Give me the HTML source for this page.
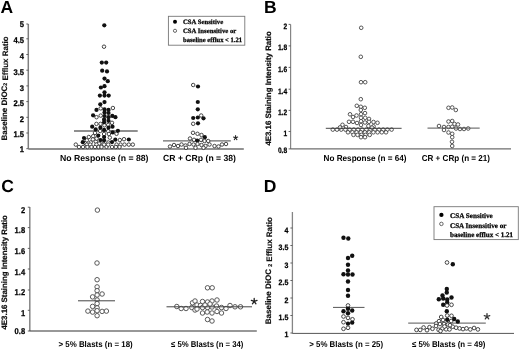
<!DOCTYPE html>
<html><head><meta charset="utf-8"><style>
html,body{margin:0;padding:0;background:#fff;}
svg{display:block;}
text{-webkit-font-smoothing:antialiased;text-rendering:geometricPrecision;}
</style></head><body>
<svg width="520" height="350" viewBox="0 0 520 350" style="will-change:transform;filter:blur(0.3px)">
<rect width="520" height="350" fill="#fff"/>
<text x="0.6" y="13.4" font-family='"Liberation Sans", sans-serif' font-size="17.5" font-weight="bold" text-anchor="start" fill="#000" >A</text>
<line x1="28.3" y1="24" x2="28.3" y2="148.9" stroke="#7e7e7e" stroke-width="1.5"/>
<line x1="26.3" y1="24" x2="28.3" y2="24" stroke="#555" stroke-width="0.9"/>
<text x="24.0" y="26.851999999999997" font-family='"Liberation Sans", sans-serif' font-size="8.2" font-weight="bold" text-anchor="end" fill="#000" textLength="4.24" lengthAdjust="spacingAndGlyphs" stroke="#000" stroke-width="0.25">5</text>
<line x1="26.3" y1="38.8" x2="28.3" y2="38.8" stroke="#555" stroke-width="0.9"/>
<text x="24.0" y="43.352" font-family='"Liberation Sans", sans-serif' font-size="8.2" font-weight="bold" text-anchor="end" fill="#000" textLength="10.60" lengthAdjust="spacingAndGlyphs" stroke="#000" stroke-width="0.25">4.5</text>
<line x1="26.3" y1="54.5" x2="28.3" y2="54.5" stroke="#555" stroke-width="0.9"/>
<text x="24.0" y="59.352" font-family='"Liberation Sans", sans-serif' font-size="8.2" font-weight="bold" text-anchor="end" fill="#000" textLength="4.24" lengthAdjust="spacingAndGlyphs" stroke="#000" stroke-width="0.25">4</text>
<line x1="26.3" y1="70.19999999999999" x2="28.3" y2="70.19999999999999" stroke="#555" stroke-width="0.9"/>
<text x="24.0" y="75.05199999999999" font-family='"Liberation Sans", sans-serif' font-size="8.2" font-weight="bold" text-anchor="end" fill="#000" textLength="10.60" lengthAdjust="spacingAndGlyphs" stroke="#000" stroke-width="0.25">3.5</text>
<line x1="26.3" y1="85.89999999999999" x2="28.3" y2="85.89999999999999" stroke="#555" stroke-width="0.9"/>
<text x="24.0" y="90.652" font-family='"Liberation Sans", sans-serif' font-size="8.2" font-weight="bold" text-anchor="end" fill="#000" textLength="4.24" lengthAdjust="spacingAndGlyphs" stroke="#000" stroke-width="0.25">3</text>
<line x1="26.3" y1="101.6" x2="28.3" y2="101.6" stroke="#555" stroke-width="0.9"/>
<text x="24.0" y="106.352" font-family='"Liberation Sans", sans-serif' font-size="8.2" font-weight="bold" text-anchor="end" fill="#000" textLength="10.60" lengthAdjust="spacingAndGlyphs" stroke="#000" stroke-width="0.25">2.5</text>
<line x1="26.3" y1="117.29999999999998" x2="28.3" y2="117.29999999999998" stroke="#555" stroke-width="0.9"/>
<text x="24.0" y="122.352" font-family='"Liberation Sans", sans-serif' font-size="8.2" font-weight="bold" text-anchor="end" fill="#000" textLength="4.24" lengthAdjust="spacingAndGlyphs" stroke="#000" stroke-width="0.25">2</text>
<line x1="26.3" y1="133.0" x2="28.3" y2="133.0" stroke="#555" stroke-width="0.9"/>
<text x="24.0" y="136.852" font-family='"Liberation Sans", sans-serif' font-size="8.2" font-weight="bold" text-anchor="end" fill="#000" textLength="10.60" lengthAdjust="spacingAndGlyphs" stroke="#000" stroke-width="0.25">1.5</text>
<line x1="26.3" y1="148.7" x2="28.3" y2="148.7" stroke="#555" stroke-width="0.9"/>
<text x="24.0" y="152.252" font-family='"Liberation Sans", sans-serif' font-size="8.2" font-weight="bold" text-anchor="end" fill="#000" textLength="4.24" lengthAdjust="spacingAndGlyphs" stroke="#000" stroke-width="0.25">1</text>
<text x="0" y="0" transform="translate(4.6,88.4) rotate(-90)" font-family='"Liberation Sans", sans-serif' font-size="7.95" font-weight="bold" text-anchor="middle" fill="#111" dominant-baseline="central" stroke="#000" stroke-width="0.15">Baseline DiOC<tspan font-size="5.3" dy="1.4">2</tspan><tspan dy="-1.4"> Efflux Ratio</tspan></text>
<line x1="28.3" y1="148.9" x2="243.8" y2="148.9" stroke="#6e6e6e" stroke-width="1.5"/>
<line x1="74" y1="131.0" x2="137.7" y2="131.0" stroke="#6a6a6a" stroke-width="1.4"/>
<line x1="163" y1="140.9" x2="230.8" y2="140.9" stroke="#6a6a6a" stroke-width="1.4"/>
<circle cx="90.8" cy="142.4" r="1.75" fill="#fff" stroke="#333" stroke-width="0.9"/>
<circle cx="95.8" cy="141.6" r="1.75" fill="#fff" stroke="#333" stroke-width="0.9"/>
<circle cx="85.1" cy="143" r="1.75" fill="#fff" stroke="#333" stroke-width="0.9"/>
<circle cx="99" cy="143.6" r="1.75" fill="#fff" stroke="#333" stroke-width="0.9"/>
<circle cx="93.2" cy="136.2" r="1.75" fill="#fff" stroke="#333" stroke-width="0.9"/>
<circle cx="96.6" cy="138.6" r="1.75" fill="#fff" stroke="#333" stroke-width="0.9"/>
<circle cx="103.3" cy="143.6" r="1.75" fill="#fff" stroke="#333" stroke-width="0.9"/>
<circle cx="108.3" cy="142.5" r="1.75" fill="#fff" stroke="#333" stroke-width="0.9"/>
<circle cx="106.5" cy="146.8" r="1.75" fill="#fff" stroke="#333" stroke-width="0.9"/>
<circle cx="104" cy="46.7" r="1.75" fill="#fff" stroke="#333" stroke-width="0.9"/>
<circle cx="100.7" cy="108.4" r="1.75" fill="#fff" stroke="#333" stroke-width="0.9"/>
<circle cx="112.9" cy="108" r="1.75" fill="#fff" stroke="#333" stroke-width="0.9"/>
<circle cx="96.5" cy="117.2" r="1.75" fill="#fff" stroke="#333" stroke-width="0.9"/>
<circle cx="100.7" cy="115.6" r="1.75" fill="#fff" stroke="#333" stroke-width="0.9"/>
<circle cx="96.4" cy="123.9" r="1.75" fill="#fff" stroke="#333" stroke-width="0.9"/>
<circle cx="100.5" cy="123.9" r="1.75" fill="#fff" stroke="#333" stroke-width="0.9"/>
<circle cx="104.4" cy="125.3" r="1.75" fill="#fff" stroke="#333" stroke-width="0.9"/>
<circle cx="108.2" cy="124.9" r="1.75" fill="#fff" stroke="#333" stroke-width="0.9"/>
<circle cx="112" cy="122.8" r="1.75" fill="#fff" stroke="#333" stroke-width="0.9"/>
<circle cx="100.2" cy="131" r="1.75" fill="#fff" stroke="#333" stroke-width="0.9"/>
<circle cx="108.2" cy="131.2" r="1.75" fill="#fff" stroke="#333" stroke-width="0.9"/>
<circle cx="95" cy="132.9" r="1.75" fill="#fff" stroke="#333" stroke-width="0.9"/>
<circle cx="116.5" cy="133.8" r="1.75" fill="#fff" stroke="#333" stroke-width="0.9"/>
<circle cx="104.1" cy="134" r="1.75" fill="#fff" stroke="#333" stroke-width="0.9"/>
<circle cx="108.9" cy="134" r="1.75" fill="#fff" stroke="#333" stroke-width="0.9"/>
<circle cx="88.8" cy="137" r="1.75" fill="#fff" stroke="#333" stroke-width="0.9"/>
<circle cx="86.8" cy="140.3" r="1.75" fill="#fff" stroke="#333" stroke-width="0.9"/>
<circle cx="92.9" cy="139.4" r="1.75" fill="#fff" stroke="#333" stroke-width="0.9"/>
<circle cx="109.8" cy="137.6" r="1.75" fill="#fff" stroke="#333" stroke-width="0.9"/>
<circle cx="119.8" cy="140" r="1.75" fill="#fff" stroke="#333" stroke-width="0.9"/>
<circle cx="124" cy="139.2" r="1.75" fill="#fff" stroke="#333" stroke-width="0.9"/>
<circle cx="75.8" cy="144.6" r="1.75" fill="#fff" stroke="#333" stroke-width="0.9"/>
<circle cx="86.8" cy="144.6" r="1.75" fill="#fff" stroke="#333" stroke-width="0.9"/>
<circle cx="90.2" cy="144.6" r="1.75" fill="#fff" stroke="#333" stroke-width="0.9"/>
<circle cx="96.4" cy="144.6" r="1.75" fill="#fff" stroke="#333" stroke-width="0.9"/>
<circle cx="104.1" cy="144.6" r="1.75" fill="#fff" stroke="#333" stroke-width="0.9"/>
<circle cx="108.2" cy="144.6" r="1.75" fill="#fff" stroke="#333" stroke-width="0.9"/>
<circle cx="116.5" cy="144.6" r="1.75" fill="#fff" stroke="#333" stroke-width="0.9"/>
<circle cx="120.5" cy="144.6" r="1.75" fill="#fff" stroke="#333" stroke-width="0.9"/>
<circle cx="124.5" cy="144.6" r="1.75" fill="#fff" stroke="#333" stroke-width="0.9"/>
<circle cx="128.8" cy="144.6" r="1.75" fill="#fff" stroke="#333" stroke-width="0.9"/>
<circle cx="132.8" cy="144.6" r="1.75" fill="#fff" stroke="#333" stroke-width="0.9"/>
<circle cx="79" cy="147" r="1.75" fill="#fff" stroke="#333" stroke-width="0.9"/>
<circle cx="83" cy="147" r="1.75" fill="#fff" stroke="#333" stroke-width="0.9"/>
<circle cx="87.4" cy="147" r="1.75" fill="#fff" stroke="#333" stroke-width="0.9"/>
<circle cx="91.5" cy="147" r="1.75" fill="#fff" stroke="#333" stroke-width="0.9"/>
<circle cx="95" cy="147" r="1.75" fill="#fff" stroke="#333" stroke-width="0.9"/>
<circle cx="98.5" cy="147" r="1.75" fill="#fff" stroke="#333" stroke-width="0.9"/>
<circle cx="101.5" cy="147" r="1.75" fill="#fff" stroke="#333" stroke-width="0.9"/>
<circle cx="112" cy="147" r="1.75" fill="#fff" stroke="#333" stroke-width="0.9"/>
<circle cx="115.8" cy="147" r="1.75" fill="#fff" stroke="#333" stroke-width="0.9"/>
<circle cx="119.5" cy="147" r="1.75" fill="#fff" stroke="#333" stroke-width="0.9"/>
<circle cx="104.3" cy="25.3" r="2.1" fill="#111"/>
<circle cx="101.8" cy="62.6" r="2.1" fill="#111"/>
<circle cx="106.2" cy="62.6" r="2.1" fill="#111"/>
<circle cx="102.2" cy="70.7" r="2.1" fill="#111"/>
<circle cx="107" cy="71.4" r="2.1" fill="#111"/>
<circle cx="104.5" cy="78.6" r="2.1" fill="#111"/>
<circle cx="107.8" cy="81.2" r="2.1" fill="#111"/>
<circle cx="100.9" cy="87.5" r="2.1" fill="#111"/>
<circle cx="104.5" cy="86.2" r="2.1" fill="#111"/>
<circle cx="104.5" cy="92.3" r="2.1" fill="#111"/>
<circle cx="99.9" cy="95.6" r="2.1" fill="#111"/>
<circle cx="104.5" cy="95.6" r="2.1" fill="#111"/>
<circle cx="108.7" cy="95.6" r="2.1" fill="#111"/>
<circle cx="104.5" cy="102.1" r="2.1" fill="#111"/>
<circle cx="100.3" cy="104.3" r="2.1" fill="#111"/>
<circle cx="96.5" cy="109.9" r="2.1" fill="#111"/>
<circle cx="104.5" cy="109.4" r="2.1" fill="#111"/>
<circle cx="108.5" cy="109.9" r="2.1" fill="#111"/>
<circle cx="104.5" cy="112.6" r="2.1" fill="#111"/>
<circle cx="108.5" cy="113" r="2.1" fill="#111"/>
<circle cx="93.1" cy="115.3" r="2.1" fill="#111"/>
<circle cx="104.5" cy="116" r="2.1" fill="#111"/>
<circle cx="108.5" cy="117.2" r="2.1" fill="#111"/>
<circle cx="112.3" cy="115.9" r="2.1" fill="#111"/>
<circle cx="115.4" cy="117.2" r="2.1" fill="#111"/>
<circle cx="104.1" cy="119.4" r="2.1" fill="#111"/>
<circle cx="108.5" cy="120.8" r="2.1" fill="#111"/>
<circle cx="104.1" cy="122.2" r="2.1" fill="#111"/>
<circle cx="92.2" cy="126.7" r="2.1" fill="#111"/>
<circle cx="100.4" cy="127.7" r="2.1" fill="#111"/>
<circle cx="108.5" cy="127.7" r="2.1" fill="#111"/>
<circle cx="112.5" cy="126.7" r="2.1" fill="#111"/>
<circle cx="95.7" cy="129.4" r="2.1" fill="#111"/>
<circle cx="104.1" cy="129.9" r="2.1" fill="#111"/>
<circle cx="117.9" cy="130.8" r="2.1" fill="#111"/>
<circle cx="112.7" cy="132.4" r="2.1" fill="#111"/>
<circle cx="84" cy="138" r="2.1" fill="#111"/>
<circle cx="82.8" cy="142.2" r="2.1" fill="#111"/>
<circle cx="98.3" cy="135.6" r="2.1" fill="#111"/>
<circle cx="100.5" cy="140.1" r="2.1" fill="#111"/>
<circle cx="104.1" cy="137" r="2.1" fill="#111"/>
<circle cx="104.1" cy="140.3" r="2.1" fill="#111"/>
<circle cx="112" cy="142.1" r="2.1" fill="#111"/>
<circle cx="115.3" cy="139.7" r="2.1" fill="#111"/>
<circle cx="128.8" cy="139.5" r="2.1" fill="#111"/>
<circle cx="193.2" cy="85" r="1.75" fill="#fff" stroke="#333" stroke-width="0.9"/>
<circle cx="198" cy="86.5" r="2.1" fill="#111"/>
<circle cx="197.8" cy="102" r="2.1" fill="#111"/>
<circle cx="197.8" cy="109.3" r="2.1" fill="#111"/>
<circle cx="201.2" cy="115.5" r="1.75" fill="#fff" stroke="#333" stroke-width="0.9"/>
<circle cx="193.2" cy="118" r="2.1" fill="#111"/>
<circle cx="197.8" cy="117.5" r="2.1" fill="#111"/>
<circle cx="203.5" cy="118.3" r="2.1" fill="#111"/>
<circle cx="193.2" cy="123.8" r="1.75" fill="#fff" stroke="#333" stroke-width="0.9"/>
<circle cx="198" cy="123.3" r="2.1" fill="#111"/>
<circle cx="193" cy="132.8" r="1.75" fill="#fff" stroke="#333" stroke-width="0.9"/>
<circle cx="197.5" cy="133.8" r="1.75" fill="#fff" stroke="#333" stroke-width="0.9"/>
<circle cx="201.5" cy="135" r="1.75" fill="#fff" stroke="#333" stroke-width="0.9"/>
<circle cx="204.8" cy="137.2" r="2.1" fill="#111"/>
<circle cx="190" cy="138.5" r="1.75" fill="#fff" stroke="#333" stroke-width="0.9"/>
<circle cx="194" cy="139.8" r="1.75" fill="#fff" stroke="#333" stroke-width="0.9"/>
<circle cx="197.2" cy="140.5" r="2.1" fill="#111"/>
<circle cx="201" cy="139.8" r="1.75" fill="#fff" stroke="#333" stroke-width="0.9"/>
<circle cx="204.5" cy="141" r="1.75" fill="#fff" stroke="#333" stroke-width="0.9"/>
<circle cx="208.2" cy="141" r="1.75" fill="#fff" stroke="#333" stroke-width="0.9"/>
<circle cx="170" cy="146.5" r="1.75" fill="#fff" stroke="#333" stroke-width="0.9"/>
<circle cx="174" cy="145" r="1.75" fill="#fff" stroke="#333" stroke-width="0.9"/>
<circle cx="178" cy="146" r="1.75" fill="#fff" stroke="#333" stroke-width="0.9"/>
<circle cx="181.5" cy="144.5" r="1.75" fill="#fff" stroke="#333" stroke-width="0.9"/>
<circle cx="185.5" cy="145.5" r="1.75" fill="#fff" stroke="#333" stroke-width="0.9"/>
<circle cx="189.5" cy="144" r="1.75" fill="#fff" stroke="#333" stroke-width="0.9"/>
<circle cx="193.5" cy="144.5" r="1.75" fill="#fff" stroke="#333" stroke-width="0.9"/>
<circle cx="197.5" cy="144" r="1.75" fill="#fff" stroke="#333" stroke-width="0.9"/>
<circle cx="201.5" cy="145" r="1.75" fill="#fff" stroke="#333" stroke-width="0.9"/>
<circle cx="205.5" cy="146" r="1.75" fill="#fff" stroke="#333" stroke-width="0.9"/>
<circle cx="209.5" cy="144.5" r="1.75" fill="#fff" stroke="#333" stroke-width="0.9"/>
<circle cx="214.5" cy="146" r="1.75" fill="#fff" stroke="#333" stroke-width="0.9"/>
<circle cx="218.5" cy="146.5" r="1.75" fill="#fff" stroke="#333" stroke-width="0.9"/>
<circle cx="222" cy="144.5" r="1.75" fill="#fff" stroke="#333" stroke-width="0.9"/>
<circle cx="226" cy="144" r="1.75" fill="#fff" stroke="#333" stroke-width="0.9"/>
<circle cx="186" cy="147.8" r="1.75" fill="#fff" stroke="#333" stroke-width="0.9"/>
<circle cx="195.5" cy="147.8" r="1.75" fill="#fff" stroke="#333" stroke-width="0.9"/>
<circle cx="203.5" cy="147.8" r="1.75" fill="#fff" stroke="#333" stroke-width="0.9"/>
<path d="M235.6,137.8L235.60,135.60M235.6,137.8L237.69,137.12M235.6,137.8L236.89,139.58M235.6,137.8L234.31,139.58M235.6,137.8L233.51,137.12" stroke="#222" stroke-width="1.05" stroke-linecap="round" fill="none"/>
<text x="60" y="161.0" font-family='"Liberation Sans", sans-serif' font-size="8.8" font-weight="bold" text-anchor="start" fill="#000" textLength="88.5" lengthAdjust="spacingAndGlyphs">No Response (n = 88)</text>
<text x="163" y="161.0" font-family='"Liberation Sans", sans-serif' font-size="8.8" font-weight="bold" text-anchor="start" fill="#000" textLength="73" lengthAdjust="spacingAndGlyphs">CR + CRp (n = 38)</text>
<rect x="168.4" y="16.3" width="76.4" height="28.900000000000002" fill="#fff" stroke="#777" stroke-width="0.9"/>
<circle cx="175" cy="21.8" r="2.0" fill="#000"/>
<circle cx="175" cy="30.8" r="1.6" fill="#fff" stroke="#555" stroke-width="0.9"/>
<text x="183" y="24.1" font-family='"Liberation Serif", serif' font-size="6.65" font-weight="bold" text-anchor="start" fill="#000" textLength="40.2" lengthAdjust="spacingAndGlyphs" stroke="#000" stroke-width="0.25">CSA Sensitive</text>
<text x="183" y="33.3" font-family='"Liberation Serif", serif' font-size="6.65" font-weight="bold" text-anchor="start" fill="#000" textLength="53.3" lengthAdjust="spacingAndGlyphs" stroke="#000" stroke-width="0.25">CSA Insensitive or</text>
<text x="183" y="42.2" font-family='"Liberation Serif", serif' font-size="6.65" font-weight="bold" text-anchor="start" fill="#000" textLength="59" lengthAdjust="spacingAndGlyphs" stroke="#000" stroke-width="0.25">baseline efflux &lt; 1.21</text>
<text x="263.9" y="13.3" font-family='"Liberation Sans", sans-serif' font-size="17.5" font-weight="bold" text-anchor="start" fill="#000" >B</text>
<line x1="290.6" y1="24.4" x2="290.6" y2="148.9" stroke="#858585" stroke-width="1.2"/>
<line x1="288.6" y1="24.4" x2="290.6" y2="24.4" stroke="#555" stroke-width="0.9"/>
<text x="287.1" y="28.708" font-family='"Liberation Sans", sans-serif' font-size="7.8" font-weight="bold" text-anchor="end" fill="#000" textLength="3.69" lengthAdjust="spacingAndGlyphs" stroke="#000" stroke-width="0.25">2</text>
<line x1="288.6" y1="45.9" x2="290.6" y2="45.9" stroke="#555" stroke-width="0.9"/>
<text x="287.1" y="50.108" font-family='"Liberation Sans", sans-serif' font-size="7.8" font-weight="bold" text-anchor="end" fill="#000" textLength="9.22" lengthAdjust="spacingAndGlyphs" stroke="#000" stroke-width="0.25">1.8</text>
<line x1="288.6" y1="67.4" x2="290.6" y2="67.4" stroke="#555" stroke-width="0.9"/>
<text x="287.1" y="72.00800000000001" font-family='"Liberation Sans", sans-serif' font-size="7.8" font-weight="bold" text-anchor="end" fill="#000" textLength="9.22" lengthAdjust="spacingAndGlyphs" stroke="#000" stroke-width="0.25">1.6</text>
<line x1="288.6" y1="89.2" x2="290.6" y2="89.2" stroke="#555" stroke-width="0.9"/>
<text x="287.1" y="93.50800000000001" font-family='"Liberation Sans", sans-serif' font-size="7.8" font-weight="bold" text-anchor="end" fill="#000" textLength="9.22" lengthAdjust="spacingAndGlyphs" stroke="#000" stroke-width="0.25">1.4</text>
<line x1="288.6" y1="110.4" x2="290.6" y2="110.4" stroke="#555" stroke-width="0.9"/>
<text x="287.1" y="114.708" font-family='"Liberation Sans", sans-serif' font-size="7.8" font-weight="bold" text-anchor="end" fill="#000" textLength="9.22" lengthAdjust="spacingAndGlyphs" stroke="#000" stroke-width="0.25">1.2</text>
<line x1="288.6" y1="131.5" x2="290.6" y2="131.5" stroke="#555" stroke-width="0.9"/>
<text x="287.1" y="135.708" font-family='"Liberation Sans", sans-serif' font-size="7.8" font-weight="bold" text-anchor="end" fill="#000" textLength="3.69" lengthAdjust="spacingAndGlyphs" stroke="#000" stroke-width="0.25">1</text>
<line x1="288.6" y1="148.9" x2="290.6" y2="148.9" stroke="#555" stroke-width="0.9"/>
<text x="287.1" y="153.00799999999998" font-family='"Liberation Sans", sans-serif' font-size="7.8" font-weight="bold" text-anchor="end" fill="#000" textLength="9.22" lengthAdjust="spacingAndGlyphs" stroke="#000" stroke-width="0.25">0.8</text>
<text x="0" y="0" transform="translate(268.4,88.4) rotate(-90)" font-family='"Liberation Sans", sans-serif' font-size="7.87" font-weight="bold" text-anchor="middle" fill="#111" dominant-baseline="central" stroke="#000" stroke-width="0.2">4E3.16 Staining Intensity Ratio</text>
<line x1="290.5" y1="148.9" x2="511" y2="148.9" stroke="#6e6e6e" stroke-width="1.4"/>
<circle cx="361.2" cy="27.8" r="1.8" fill="#fff" stroke="#444" stroke-width="0.9"/>
<circle cx="360.8" cy="56.8" r="1.8" fill="#fff" stroke="#444" stroke-width="0.9"/>
<circle cx="361" cy="82.2" r="1.8" fill="#fff" stroke="#444" stroke-width="0.9"/>
<circle cx="365.2" cy="82.2" r="1.8" fill="#fff" stroke="#444" stroke-width="0.9"/>
<circle cx="360.8" cy="99.2" r="1.8" fill="#fff" stroke="#444" stroke-width="0.9"/>
<circle cx="356.8" cy="105.8" r="1.8" fill="#fff" stroke="#444" stroke-width="0.9"/>
<circle cx="360.8" cy="106.8" r="1.8" fill="#fff" stroke="#444" stroke-width="0.9"/>
<circle cx="364.8" cy="107.8" r="1.8" fill="#fff" stroke="#444" stroke-width="0.9"/>
<circle cx="360.8" cy="110" r="1.8" fill="#fff" stroke="#444" stroke-width="0.9"/>
<circle cx="350" cy="114.3" r="1.8" fill="#fff" stroke="#444" stroke-width="0.9"/>
<circle cx="353" cy="117" r="1.8" fill="#fff" stroke="#444" stroke-width="0.9"/>
<circle cx="356.5" cy="115.5" r="1.8" fill="#fff" stroke="#444" stroke-width="0.9"/>
<circle cx="361" cy="114.2" r="1.8" fill="#fff" stroke="#444" stroke-width="0.9"/>
<circle cx="365" cy="113.1" r="1.8" fill="#fff" stroke="#444" stroke-width="0.9"/>
<circle cx="361" cy="117.8" r="1.8" fill="#fff" stroke="#444" stroke-width="0.9"/>
<circle cx="365.2" cy="117.8" r="1.8" fill="#fff" stroke="#444" stroke-width="0.9"/>
<circle cx="369" cy="118.9" r="1.8" fill="#fff" stroke="#444" stroke-width="0.9"/>
<circle cx="349" cy="121.8" r="1.8" fill="#fff" stroke="#444" stroke-width="0.9"/>
<circle cx="353" cy="121.8" r="1.8" fill="#fff" stroke="#444" stroke-width="0.9"/>
<circle cx="357" cy="123" r="1.8" fill="#fff" stroke="#444" stroke-width="0.9"/>
<circle cx="361" cy="121.2" r="1.8" fill="#fff" stroke="#444" stroke-width="0.9"/>
<circle cx="365" cy="122.5" r="1.8" fill="#fff" stroke="#444" stroke-width="0.9"/>
<circle cx="369" cy="121.8" r="1.8" fill="#fff" stroke="#444" stroke-width="0.9"/>
<circle cx="373.5" cy="122" r="1.8" fill="#fff" stroke="#444" stroke-width="0.9"/>
<circle cx="377.5" cy="122.8" r="1.8" fill="#fff" stroke="#444" stroke-width="0.9"/>
<circle cx="342.5" cy="124.8" r="1.8" fill="#fff" stroke="#444" stroke-width="0.9"/>
<circle cx="346" cy="127" r="1.8" fill="#fff" stroke="#444" stroke-width="0.9"/>
<circle cx="361" cy="125" r="1.8" fill="#fff" stroke="#444" stroke-width="0.9"/>
<circle cx="368.4" cy="126" r="1.8" fill="#fff" stroke="#444" stroke-width="0.9"/>
<circle cx="373.5" cy="126.3" r="1.8" fill="#fff" stroke="#444" stroke-width="0.9"/>
<circle cx="332.8" cy="129.6" r="1.8" fill="#fff" stroke="#444" stroke-width="0.9"/>
<circle cx="337" cy="129.6" r="1.8" fill="#fff" stroke="#444" stroke-width="0.9"/>
<circle cx="341.2" cy="129.6" r="1.8" fill="#fff" stroke="#444" stroke-width="0.9"/>
<circle cx="345.4" cy="129.6" r="1.8" fill="#fff" stroke="#444" stroke-width="0.9"/>
<circle cx="349.6" cy="129.6" r="1.8" fill="#fff" stroke="#444" stroke-width="0.9"/>
<circle cx="353.8" cy="129.6" r="1.8" fill="#fff" stroke="#444" stroke-width="0.9"/>
<circle cx="358" cy="129.6" r="1.8" fill="#fff" stroke="#444" stroke-width="0.9"/>
<circle cx="362.2" cy="129.6" r="1.8" fill="#fff" stroke="#444" stroke-width="0.9"/>
<circle cx="366.4" cy="129.6" r="1.8" fill="#fff" stroke="#444" stroke-width="0.9"/>
<circle cx="370.6" cy="129.6" r="1.8" fill="#fff" stroke="#444" stroke-width="0.9"/>
<circle cx="374.8" cy="129.6" r="1.8" fill="#fff" stroke="#444" stroke-width="0.9"/>
<circle cx="379" cy="129.6" r="1.8" fill="#fff" stroke="#444" stroke-width="0.9"/>
<circle cx="383.2" cy="129.6" r="1.8" fill="#fff" stroke="#444" stroke-width="0.9"/>
<circle cx="387.4" cy="129.6" r="1.8" fill="#fff" stroke="#444" stroke-width="0.9"/>
<circle cx="391.6" cy="129.6" r="1.8" fill="#fff" stroke="#444" stroke-width="0.9"/>
<circle cx="348" cy="132.3" r="1.8" fill="#fff" stroke="#444" stroke-width="0.9"/>
<circle cx="352.4" cy="132.3" r="1.8" fill="#fff" stroke="#444" stroke-width="0.9"/>
<circle cx="356.6" cy="132.3" r="1.8" fill="#fff" stroke="#444" stroke-width="0.9"/>
<circle cx="360.8" cy="132.3" r="1.8" fill="#fff" stroke="#444" stroke-width="0.9"/>
<circle cx="365" cy="132.3" r="1.8" fill="#fff" stroke="#444" stroke-width="0.9"/>
<circle cx="369.2" cy="132.3" r="1.8" fill="#fff" stroke="#444" stroke-width="0.9"/>
<circle cx="373.4" cy="132.3" r="1.8" fill="#fff" stroke="#444" stroke-width="0.9"/>
<circle cx="377.6" cy="132.3" r="1.8" fill="#fff" stroke="#444" stroke-width="0.9"/>
<circle cx="381.8" cy="132.3" r="1.8" fill="#fff" stroke="#444" stroke-width="0.9"/>
<circle cx="386" cy="132.3" r="1.8" fill="#fff" stroke="#444" stroke-width="0.9"/>
<circle cx="353.5" cy="134.9" r="1.8" fill="#fff" stroke="#444" stroke-width="0.9"/>
<circle cx="357.5" cy="134.9" r="1.8" fill="#fff" stroke="#444" stroke-width="0.9"/>
<circle cx="361.5" cy="134.9" r="1.8" fill="#fff" stroke="#444" stroke-width="0.9"/>
<circle cx="365.6" cy="134.9" r="1.8" fill="#fff" stroke="#444" stroke-width="0.9"/>
<circle cx="369.7" cy="134.9" r="1.8" fill="#fff" stroke="#444" stroke-width="0.9"/>
<circle cx="361" cy="137.2" r="1.8" fill="#fff" stroke="#444" stroke-width="0.9"/>
<circle cx="365" cy="137.2" r="1.8" fill="#fff" stroke="#444" stroke-width="0.9"/>
<circle cx="340" cy="127.4" r="1.8" fill="#fff" stroke="#444" stroke-width="0.9"/>
<circle cx="372" cy="127.6" r="1.8" fill="#fff" stroke="#444" stroke-width="0.9"/>
<circle cx="448.5" cy="107.8" r="1.8" fill="#fff" stroke="#444" stroke-width="0.9"/>
<circle cx="452.2" cy="107.5" r="1.8" fill="#fff" stroke="#444" stroke-width="0.9"/>
<circle cx="455.8" cy="110" r="1.8" fill="#fff" stroke="#444" stroke-width="0.9"/>
<circle cx="448.5" cy="121.5" r="1.8" fill="#fff" stroke="#444" stroke-width="0.9"/>
<circle cx="452.2" cy="121" r="1.8" fill="#fff" stroke="#444" stroke-width="0.9"/>
<circle cx="454.5" cy="124" r="1.8" fill="#fff" stroke="#444" stroke-width="0.9"/>
<circle cx="458" cy="124.5" r="1.8" fill="#fff" stroke="#444" stroke-width="0.9"/>
<circle cx="439" cy="126" r="1.8" fill="#fff" stroke="#444" stroke-width="0.9"/>
<circle cx="444" cy="127" r="1.8" fill="#fff" stroke="#444" stroke-width="0.9"/>
<circle cx="444" cy="130" r="1.8" fill="#fff" stroke="#444" stroke-width="0.9"/>
<circle cx="448.5" cy="127" r="1.8" fill="#fff" stroke="#444" stroke-width="0.9"/>
<circle cx="452.2" cy="126.8" r="1.8" fill="#fff" stroke="#444" stroke-width="0.9"/>
<circle cx="456" cy="128.5" r="1.8" fill="#fff" stroke="#444" stroke-width="0.9"/>
<circle cx="460" cy="129" r="1.8" fill="#fff" stroke="#444" stroke-width="0.9"/>
<circle cx="464" cy="129" r="1.8" fill="#fff" stroke="#444" stroke-width="0.9"/>
<circle cx="468.2" cy="128.5" r="1.8" fill="#fff" stroke="#444" stroke-width="0.9"/>
<circle cx="448.5" cy="132.5" r="1.8" fill="#fff" stroke="#444" stroke-width="0.9"/>
<circle cx="452.2" cy="133.8" r="1.8" fill="#fff" stroke="#444" stroke-width="0.9"/>
<circle cx="452.2" cy="137.2" r="1.8" fill="#fff" stroke="#444" stroke-width="0.9"/>
<circle cx="452" cy="141.8" r="1.8" fill="#fff" stroke="#444" stroke-width="0.9"/>
<circle cx="452.2" cy="146" r="1.8" fill="#fff" stroke="#444" stroke-width="0.9"/>
<line x1="325.8" y1="128.3" x2="401.6" y2="128.3" stroke="#333" stroke-width="0.9"/>
<line x1="427.5" y1="128.1" x2="479.7" y2="128.1" stroke="#555" stroke-width="1"/>
<text x="323.6" y="160.9" font-family='"Liberation Sans", sans-serif' font-size="8.6" font-weight="bold" text-anchor="start" fill="#000" textLength="83" lengthAdjust="spacingAndGlyphs">No Response (n = 64)</text>
<text x="421.7" y="160.9" font-family='"Liberation Sans", sans-serif' font-size="8.6" font-weight="bold" text-anchor="start" fill="#000" textLength="68.3" lengthAdjust="spacingAndGlyphs">CR + CRp (n = 21)</text>
<text x="1.2" y="191.6" font-family='"Liberation Sans", sans-serif' font-size="17.5" font-weight="bold" text-anchor="start" fill="#000" >C</text>
<line x1="29.8" y1="207" x2="29.8" y2="331" stroke="#858585" stroke-width="1.5"/>
<line x1="27.8" y1="207.2" x2="29.8" y2="207.2" stroke="#555" stroke-width="0.9"/>
<text x="25.1" y="212.524" font-family='"Liberation Sans", sans-serif' font-size="8.4" font-weight="bold" text-anchor="end" fill="#000" textLength="4.20" lengthAdjust="spacingAndGlyphs" stroke="#000" stroke-width="0.25">2</text>
<line x1="27.8" y1="227.6" x2="29.8" y2="227.6" stroke="#555" stroke-width="0.9"/>
<text x="25.1" y="233.124" font-family='"Liberation Sans", sans-serif' font-size="8.4" font-weight="bold" text-anchor="end" fill="#000" textLength="10.51" lengthAdjust="spacingAndGlyphs" stroke="#000" stroke-width="0.25">1.8</text>
<line x1="27.8" y1="248.4" x2="29.8" y2="248.4" stroke="#555" stroke-width="0.9"/>
<text x="25.1" y="253.824" font-family='"Liberation Sans", sans-serif' font-size="8.4" font-weight="bold" text-anchor="end" fill="#000" textLength="10.51" lengthAdjust="spacingAndGlyphs" stroke="#000" stroke-width="0.25">1.6</text>
<line x1="27.8" y1="269" x2="29.8" y2="269" stroke="#555" stroke-width="0.9"/>
<text x="25.1" y="274.624" font-family='"Liberation Sans", sans-serif' font-size="8.4" font-weight="bold" text-anchor="end" fill="#000" textLength="10.51" lengthAdjust="spacingAndGlyphs" stroke="#000" stroke-width="0.25">1.4</text>
<line x1="27.8" y1="290" x2="29.8" y2="290" stroke="#555" stroke-width="0.9"/>
<text x="25.1" y="295.324" font-family='"Liberation Sans", sans-serif' font-size="8.4" font-weight="bold" text-anchor="end" fill="#000" textLength="10.51" lengthAdjust="spacingAndGlyphs" stroke="#000" stroke-width="0.25">1.2</text>
<line x1="27.8" y1="310.3" x2="29.8" y2="310.3" stroke="#555" stroke-width="0.9"/>
<text x="25.1" y="315.824" font-family='"Liberation Sans", sans-serif' font-size="8.4" font-weight="bold" text-anchor="end" fill="#000" textLength="4.20" lengthAdjust="spacingAndGlyphs" stroke="#000" stroke-width="0.25">1</text>
<line x1="27.8" y1="331" x2="29.8" y2="331" stroke="#555" stroke-width="0.9"/>
<text x="25.1" y="333.824" font-family='"Liberation Sans", sans-serif' font-size="8.4" font-weight="bold" text-anchor="end" fill="#000" textLength="10.51" lengthAdjust="spacingAndGlyphs" stroke="#000" stroke-width="0.25">0.8</text>
<text x="0" y="0" transform="translate(4.6,272.3) rotate(-90)" font-family='"Liberation Sans", sans-serif' font-size="7.87" font-weight="bold" text-anchor="middle" fill="#111" dominant-baseline="central" stroke="#000" stroke-width="0.2">4E3.16 Staining Intensity Ratio</text>
<line x1="29.6" y1="331.0" x2="256.8" y2="331.0" stroke="#333" stroke-width="1.2"/>
<circle cx="97.4" cy="210.1" r="2.25" fill="#fff" stroke="#505050" stroke-width="0.95"/>
<circle cx="97" cy="263" r="2.25" fill="#fff" stroke="#505050" stroke-width="0.95"/>
<circle cx="97.1" cy="279.7" r="2.25" fill="#fff" stroke="#505050" stroke-width="0.95"/>
<circle cx="97.1" cy="286.9" r="2.25" fill="#fff" stroke="#505050" stroke-width="0.95"/>
<circle cx="97.1" cy="290.7" r="2.25" fill="#fff" stroke="#505050" stroke-width="0.95"/>
<circle cx="97.1" cy="295" r="2.25" fill="#fff" stroke="#505050" stroke-width="0.95"/>
<circle cx="102.1" cy="294" r="2.25" fill="#fff" stroke="#505050" stroke-width="0.95"/>
<circle cx="92.6" cy="296.9" r="2.25" fill="#fff" stroke="#505050" stroke-width="0.95"/>
<circle cx="97.1" cy="300" r="2.25" fill="#fff" stroke="#505050" stroke-width="0.95"/>
<circle cx="97.1" cy="303.6" r="2.25" fill="#fff" stroke="#505050" stroke-width="0.95"/>
<circle cx="92.6" cy="306.4" r="2.25" fill="#fff" stroke="#505050" stroke-width="0.95"/>
<circle cx="97.1" cy="307.9" r="2.25" fill="#fff" stroke="#505050" stroke-width="0.95"/>
<circle cx="87.9" cy="311.1" r="2.25" fill="#fff" stroke="#505050" stroke-width="0.95"/>
<circle cx="92.6" cy="312.1" r="2.25" fill="#fff" stroke="#505050" stroke-width="0.95"/>
<circle cx="97.1" cy="310.7" r="2.25" fill="#fff" stroke="#505050" stroke-width="0.95"/>
<circle cx="102.1" cy="311.4" r="2.25" fill="#fff" stroke="#505050" stroke-width="0.95"/>
<circle cx="106.4" cy="311.1" r="2.25" fill="#fff" stroke="#505050" stroke-width="0.95"/>
<circle cx="97.1" cy="315.7" r="2.25" fill="#fff" stroke="#505050" stroke-width="0.95"/>
<circle cx="207.5" cy="287.8" r="2.25" fill="#fff" stroke="#505050" stroke-width="0.95"/>
<circle cx="212.2" cy="287.8" r="2.25" fill="#fff" stroke="#505050" stroke-width="0.95"/>
<circle cx="192.5" cy="302.8" r="2.25" fill="#fff" stroke="#505050" stroke-width="0.95"/>
<circle cx="195" cy="301" r="2.25" fill="#fff" stroke="#505050" stroke-width="0.95"/>
<circle cx="202.5" cy="301.5" r="2.25" fill="#fff" stroke="#505050" stroke-width="0.95"/>
<circle cx="207.5" cy="302" r="2.25" fill="#fff" stroke="#505050" stroke-width="0.95"/>
<circle cx="212" cy="301" r="2.25" fill="#fff" stroke="#505050" stroke-width="0.95"/>
<circle cx="217" cy="300" r="2.25" fill="#fff" stroke="#505050" stroke-width="0.95"/>
<circle cx="176.8" cy="306.5" r="2.25" fill="#fff" stroke="#505050" stroke-width="0.95"/>
<circle cx="181.2" cy="308.5" r="2.25" fill="#fff" stroke="#505050" stroke-width="0.95"/>
<circle cx="186" cy="308.5" r="2.25" fill="#fff" stroke="#505050" stroke-width="0.95"/>
<circle cx="191.8" cy="307.5" r="2.25" fill="#fff" stroke="#505050" stroke-width="0.95"/>
<circle cx="197" cy="305" r="2.25" fill="#fff" stroke="#505050" stroke-width="0.95"/>
<circle cx="200.5" cy="305.5" r="2.25" fill="#fff" stroke="#505050" stroke-width="0.95"/>
<circle cx="202.5" cy="307.5" r="2.25" fill="#fff" stroke="#505050" stroke-width="0.95"/>
<circle cx="207.5" cy="307.5" r="2.25" fill="#fff" stroke="#505050" stroke-width="0.95"/>
<circle cx="212" cy="307" r="2.25" fill="#fff" stroke="#505050" stroke-width="0.95"/>
<circle cx="216.5" cy="306" r="2.25" fill="#fff" stroke="#505050" stroke-width="0.95"/>
<circle cx="221.5" cy="307.5" r="2.25" fill="#fff" stroke="#505050" stroke-width="0.95"/>
<circle cx="226" cy="308.5" r="2.25" fill="#fff" stroke="#505050" stroke-width="0.95"/>
<circle cx="230" cy="305.5" r="2.25" fill="#fff" stroke="#505050" stroke-width="0.95"/>
<circle cx="235" cy="306.8" r="2.25" fill="#fff" stroke="#505050" stroke-width="0.95"/>
<circle cx="240.5" cy="306.8" r="2.25" fill="#fff" stroke="#505050" stroke-width="0.95"/>
<circle cx="195" cy="310" r="2.25" fill="#fff" stroke="#505050" stroke-width="0.95"/>
<circle cx="202.5" cy="313" r="2.25" fill="#fff" stroke="#505050" stroke-width="0.95"/>
<circle cx="207.2" cy="312" r="2.25" fill="#fff" stroke="#505050" stroke-width="0.95"/>
<circle cx="212" cy="313" r="2.25" fill="#fff" stroke="#505050" stroke-width="0.95"/>
<circle cx="217" cy="311.5" r="2.25" fill="#fff" stroke="#505050" stroke-width="0.95"/>
<circle cx="221.5" cy="313" r="2.25" fill="#fff" stroke="#505050" stroke-width="0.95"/>
<circle cx="207.5" cy="319.5" r="2.25" fill="#fff" stroke="#505050" stroke-width="0.95"/>
<circle cx="212" cy="321" r="2.25" fill="#fff" stroke="#505050" stroke-width="0.95"/>
<circle cx="197" cy="309" r="2.25" fill="#fff" stroke="#505050" stroke-width="0.95"/>
<circle cx="205" cy="305" r="2.25" fill="#fff" stroke="#505050" stroke-width="0.95"/>
<circle cx="210" cy="304" r="2.25" fill="#fff" stroke="#505050" stroke-width="0.95"/>
<line x1="78" y1="300.8" x2="115" y2="300.8" stroke="#444" stroke-width="1"/>
<line x1="166.5" y1="306.8" x2="252" y2="306.8" stroke="#444" stroke-width="1"/>
<path d="M254.2,301.4L254.20,298.40M254.2,301.4L257.05,300.47M254.2,301.4L255.96,303.83M254.2,301.4L252.44,303.83M254.2,301.4L251.35,300.47" stroke="#222" stroke-width="1.3" stroke-linecap="round" fill="none"/>
<text x="58.5" y="346.8" font-family='"Liberation Sans", sans-serif' font-size="8.4" font-weight="bold" text-anchor="start" fill="#000" textLength="74.2" lengthAdjust="spacingAndGlyphs">&gt; 5% Blasts (n = 18)</text>
<text x="171" y="346.8" font-family='"Liberation Sans", sans-serif' font-size="8.4" font-weight="bold" text-anchor="start" fill="#000" textLength="72.4" lengthAdjust="spacingAndGlyphs">≤ 5% Blasts (n = 34)</text>
<text x="263.8" y="191.8" font-family='"Liberation Sans", sans-serif' font-size="17.5" font-weight="bold" text-anchor="start" fill="#000" >D</text>
<line x1="292.4" y1="212" x2="292.4" y2="333.4" stroke="#858585" stroke-width="1.3"/>
<line x1="290.4" y1="228.0" x2="292.4" y2="228.0" stroke="#555" stroke-width="0.9"/>
<text x="288.3" y="232.708" font-family='"Liberation Sans", sans-serif' font-size="7.8" font-weight="bold" text-anchor="end" fill="#000" textLength="3.90" lengthAdjust="spacingAndGlyphs" stroke="#000" stroke-width="0.25">4</text>
<line x1="290.4" y1="245.5" x2="292.4" y2="245.5" stroke="#555" stroke-width="0.9"/>
<text x="288.3" y="250.208" font-family='"Liberation Sans", sans-serif' font-size="7.8" font-weight="bold" text-anchor="end" fill="#000" textLength="9.76" lengthAdjust="spacingAndGlyphs" stroke="#000" stroke-width="0.25">3.5</text>
<line x1="290.4" y1="263.0" x2="292.4" y2="263.0" stroke="#555" stroke-width="0.9"/>
<text x="288.3" y="267.70799999999997" font-family='"Liberation Sans", sans-serif' font-size="7.8" font-weight="bold" text-anchor="end" fill="#000" textLength="3.90" lengthAdjust="spacingAndGlyphs" stroke="#000" stroke-width="0.25">3</text>
<line x1="290.4" y1="280.5" x2="292.4" y2="280.5" stroke="#555" stroke-width="0.9"/>
<text x="288.3" y="285.20799999999997" font-family='"Liberation Sans", sans-serif' font-size="7.8" font-weight="bold" text-anchor="end" fill="#000" textLength="9.76" lengthAdjust="spacingAndGlyphs" stroke="#000" stroke-width="0.25">2.5</text>
<line x1="290.4" y1="298.0" x2="292.4" y2="298.0" stroke="#555" stroke-width="0.9"/>
<text x="288.3" y="302.70799999999997" font-family='"Liberation Sans", sans-serif' font-size="7.8" font-weight="bold" text-anchor="end" fill="#000" textLength="3.90" lengthAdjust="spacingAndGlyphs" stroke="#000" stroke-width="0.25">2</text>
<line x1="290.4" y1="315.5" x2="292.4" y2="315.5" stroke="#555" stroke-width="0.9"/>
<text x="288.3" y="320.20799999999997" font-family='"Liberation Sans", sans-serif' font-size="7.8" font-weight="bold" text-anchor="end" fill="#000" textLength="9.76" lengthAdjust="spacingAndGlyphs" stroke="#000" stroke-width="0.25">1.5</text>
<line x1="290.4" y1="333.0" x2="292.4" y2="333.0" stroke="#555" stroke-width="0.9"/>
<text x="288.3" y="336.70799999999997" font-family='"Liberation Sans", sans-serif' font-size="7.8" font-weight="bold" text-anchor="end" fill="#000" textLength="3.90" lengthAdjust="spacingAndGlyphs" stroke="#000" stroke-width="0.25">1</text>
<text x="0" y="0" transform="translate(268.6,270.7) rotate(-90)" font-family='"Liberation Sans", sans-serif' font-size="8.0" font-weight="bold" text-anchor="middle" fill="#111" dominant-baseline="central" stroke="#000" stroke-width="0.15">Baseline DiOC <tspan font-size="5.4" dy="2.6">2</tspan><tspan dy="-2.6"> Efflux Ratio</tspan></text>
<line x1="292.3" y1="333.4" x2="514" y2="333.4" stroke="#555" stroke-width="1.0"/>
<line x1="333" y1="307.4" x2="364.5" y2="307.4" stroke="#555" stroke-width="1"/>
<line x1="408.2" y1="323.1" x2="485.8" y2="323.1" stroke="#555" stroke-width="1"/>
<circle cx="343.5" cy="237.8" r="2.2" fill="#111"/>
<circle cx="348.3" cy="238.5" r="2.2" fill="#111"/>
<circle cx="352.2" cy="255.8" r="2.2" fill="#111"/>
<circle cx="348" cy="258" r="2.2" fill="#111"/>
<circle cx="348" cy="264.8" r="2.2" fill="#111"/>
<circle cx="348" cy="270.5" r="2.2" fill="#111"/>
<circle cx="343.5" cy="274.2" r="2.2" fill="#111"/>
<circle cx="348" cy="274.5" r="2.2" fill="#111"/>
<circle cx="352.5" cy="274.5" r="2.2" fill="#111"/>
<circle cx="348" cy="281.5" r="2.2" fill="#111"/>
<circle cx="348" cy="290" r="2.2" fill="#111"/>
<circle cx="348" cy="295.8" r="2.2" fill="#111"/>
<circle cx="348" cy="305.5" r="1.85" fill="#fff" stroke="#333" stroke-width="0.9"/>
<circle cx="348" cy="308.8" r="2.2" fill="#111"/>
<circle cx="343.5" cy="311.3" r="2.2" fill="#111"/>
<circle cx="352.2" cy="310.5" r="2.2" fill="#111"/>
<circle cx="348" cy="313.3" r="2.2" fill="#111"/>
<circle cx="343.5" cy="316.5" r="1.85" fill="#fff" stroke="#333" stroke-width="0.9"/>
<circle cx="348" cy="317.9" r="1.85" fill="#fff" stroke="#333" stroke-width="0.9"/>
<circle cx="352.5" cy="319.3" r="1.85" fill="#fff" stroke="#333" stroke-width="0.9"/>
<circle cx="343.5" cy="322.2" r="1.85" fill="#fff" stroke="#333" stroke-width="0.9"/>
<circle cx="348" cy="323.6" r="2.2" fill="#111"/>
<circle cx="352.2" cy="322.6" r="2.2" fill="#111"/>
<circle cx="343.5" cy="328.8" r="1.85" fill="#fff" stroke="#333" stroke-width="0.9"/>
<circle cx="348" cy="327.8" r="1.85" fill="#fff" stroke="#333" stroke-width="0.9"/>
<circle cx="447" cy="262.5" r="1.85" fill="#fff" stroke="#333" stroke-width="0.9"/>
<circle cx="452.8" cy="264.2" r="2.2" fill="#111"/>
<circle cx="446.8" cy="289" r="2.2" fill="#111"/>
<circle cx="446.8" cy="292.5" r="2.2" fill="#111"/>
<circle cx="442.5" cy="295.5" r="2.2" fill="#111"/>
<circle cx="451.5" cy="297.5" r="2.2" fill="#111"/>
<circle cx="438.8" cy="299.2" r="2.2" fill="#111"/>
<circle cx="443.2" cy="298.5" r="2.2" fill="#111"/>
<circle cx="447.2" cy="299.5" r="2.2" fill="#111"/>
<circle cx="447.2" cy="302.5" r="2.2" fill="#111"/>
<circle cx="443.2" cy="304.8" r="2.2" fill="#111"/>
<circle cx="447" cy="305.5" r="1.85" fill="#fff" stroke="#333" stroke-width="0.9"/>
<circle cx="451.5" cy="304.8" r="1.85" fill="#fff" stroke="#333" stroke-width="0.9"/>
<circle cx="446.8" cy="311.3" r="2.2" fill="#111"/>
<circle cx="441.2" cy="317" r="1.85" fill="#fff" stroke="#333" stroke-width="0.9"/>
<circle cx="447.2" cy="315.5" r="1.85" fill="#fff" stroke="#333" stroke-width="0.9"/>
<circle cx="451.5" cy="315.8" r="1.85" fill="#fff" stroke="#333" stroke-width="0.9"/>
<circle cx="439" cy="321.2" r="1.85" fill="#fff" stroke="#333" stroke-width="0.9"/>
<circle cx="443" cy="320" r="1.85" fill="#fff" stroke="#333" stroke-width="0.9"/>
<circle cx="451.2" cy="321" r="1.85" fill="#fff" stroke="#333" stroke-width="0.9"/>
<circle cx="447.2" cy="319.8" r="2.2" fill="#111"/>
<circle cx="454.2" cy="319" r="2.2" fill="#111"/>
<circle cx="457.8" cy="321.5" r="2.2" fill="#111"/>
<circle cx="436.2" cy="323.5" r="1.85" fill="#fff" stroke="#333" stroke-width="0.9"/>
<circle cx="440" cy="324" r="1.85" fill="#fff" stroke="#333" stroke-width="0.9"/>
<circle cx="444" cy="324" r="1.85" fill="#fff" stroke="#333" stroke-width="0.9"/>
<circle cx="448" cy="324.5" r="1.85" fill="#fff" stroke="#333" stroke-width="0.9"/>
<circle cx="416.5" cy="329.9" r="1.85" fill="#fff" stroke="#333" stroke-width="0.9"/>
<circle cx="420.2" cy="329.9" r="1.85" fill="#fff" stroke="#333" stroke-width="0.9"/>
<circle cx="423.6" cy="327.5" r="1.85" fill="#fff" stroke="#333" stroke-width="0.9"/>
<circle cx="427" cy="330.2" r="1.85" fill="#fff" stroke="#333" stroke-width="0.9"/>
<circle cx="429.5" cy="327.2" r="1.85" fill="#fff" stroke="#333" stroke-width="0.9"/>
<circle cx="432.5" cy="328.8" r="1.85" fill="#fff" stroke="#333" stroke-width="0.9"/>
<circle cx="436" cy="326" r="1.85" fill="#fff" stroke="#333" stroke-width="0.9"/>
<circle cx="438.6" cy="329.8" r="1.85" fill="#fff" stroke="#333" stroke-width="0.9"/>
<circle cx="442.5" cy="328.4" r="1.85" fill="#fff" stroke="#333" stroke-width="0.9"/>
<circle cx="446.1" cy="329.3" r="1.85" fill="#fff" stroke="#333" stroke-width="0.9"/>
<circle cx="449.5" cy="329.4" r="1.85" fill="#fff" stroke="#333" stroke-width="0.9"/>
<circle cx="452.7" cy="326.7" r="1.85" fill="#fff" stroke="#333" stroke-width="0.9"/>
<circle cx="456.1" cy="327.7" r="1.85" fill="#fff" stroke="#333" stroke-width="0.9"/>
<circle cx="459.6" cy="328.4" r="1.85" fill="#fff" stroke="#333" stroke-width="0.9"/>
<circle cx="463" cy="329.1" r="1.85" fill="#fff" stroke="#333" stroke-width="0.9"/>
<circle cx="466.5" cy="328.4" r="1.85" fill="#fff" stroke="#333" stroke-width="0.9"/>
<circle cx="470.3" cy="329.4" r="1.85" fill="#fff" stroke="#333" stroke-width="0.9"/>
<circle cx="474.1" cy="328" r="1.85" fill="#fff" stroke="#333" stroke-width="0.9"/>
<circle cx="477.9" cy="329.4" r="1.85" fill="#fff" stroke="#333" stroke-width="0.9"/>
<circle cx="444.5" cy="326.5" r="1.85" fill="#fff" stroke="#333" stroke-width="0.9"/>
<circle cx="450" cy="325.2" r="1.85" fill="#fff" stroke="#333" stroke-width="0.9"/>
<circle cx="440.5" cy="331" r="1.85" fill="#fff" stroke="#333" stroke-width="0.9"/>
<path d="M487,316.5L487.00,313.60M487,316.5L489.76,315.60M487,316.5L488.70,318.85M487,316.5L485.30,318.85M487,316.5L484.24,315.60" stroke="#333" stroke-width="1.3" stroke-linecap="round" fill="none"/>
<text x="309.3" y="346.7" font-family='"Liberation Sans", sans-serif' font-size="8.4" font-weight="bold" text-anchor="start" fill="#000" textLength="73.8" lengthAdjust="spacingAndGlyphs">&gt; 5% Blasts (n = 25)</text>
<text x="411.9" y="346.7" font-family='"Liberation Sans", sans-serif' font-size="8.4" font-weight="bold" text-anchor="start" fill="#000" textLength="73.6" lengthAdjust="spacingAndGlyphs">≤ 5% Blasts (n = 49)</text>
<rect x="434" y="206.7" width="84.29999999999995" height="32.900000000000006" fill="#fff" stroke="#777" stroke-width="0.9"/>
<circle cx="441.4" cy="214.9" r="2.15" fill="#000"/>
<circle cx="441.4" cy="223.9" r="1.75" fill="#fff" stroke="#555" stroke-width="0.9"/>
<text x="450" y="217.6" font-family='"Liberation Serif", serif' font-size="7.08" font-weight="bold" text-anchor="start" fill="#000" textLength="42.8" lengthAdjust="spacingAndGlyphs" stroke="#000" stroke-width="0.25">CSA Sensitive</text>
<text x="450" y="227.9" font-family='"Liberation Serif", serif' font-size="7.08" font-weight="bold" text-anchor="start" fill="#000" textLength="56.5" lengthAdjust="spacingAndGlyphs" stroke="#000" stroke-width="0.25">CSA Insensitive or</text>
<text x="450" y="236.8" font-family='"Liberation Serif", serif' font-size="7.08" font-weight="bold" text-anchor="start" fill="#000" textLength="63.1" lengthAdjust="spacingAndGlyphs" stroke="#000" stroke-width="0.25">baseline efflux &lt; 1.21</text>
</svg>
</body></html>
